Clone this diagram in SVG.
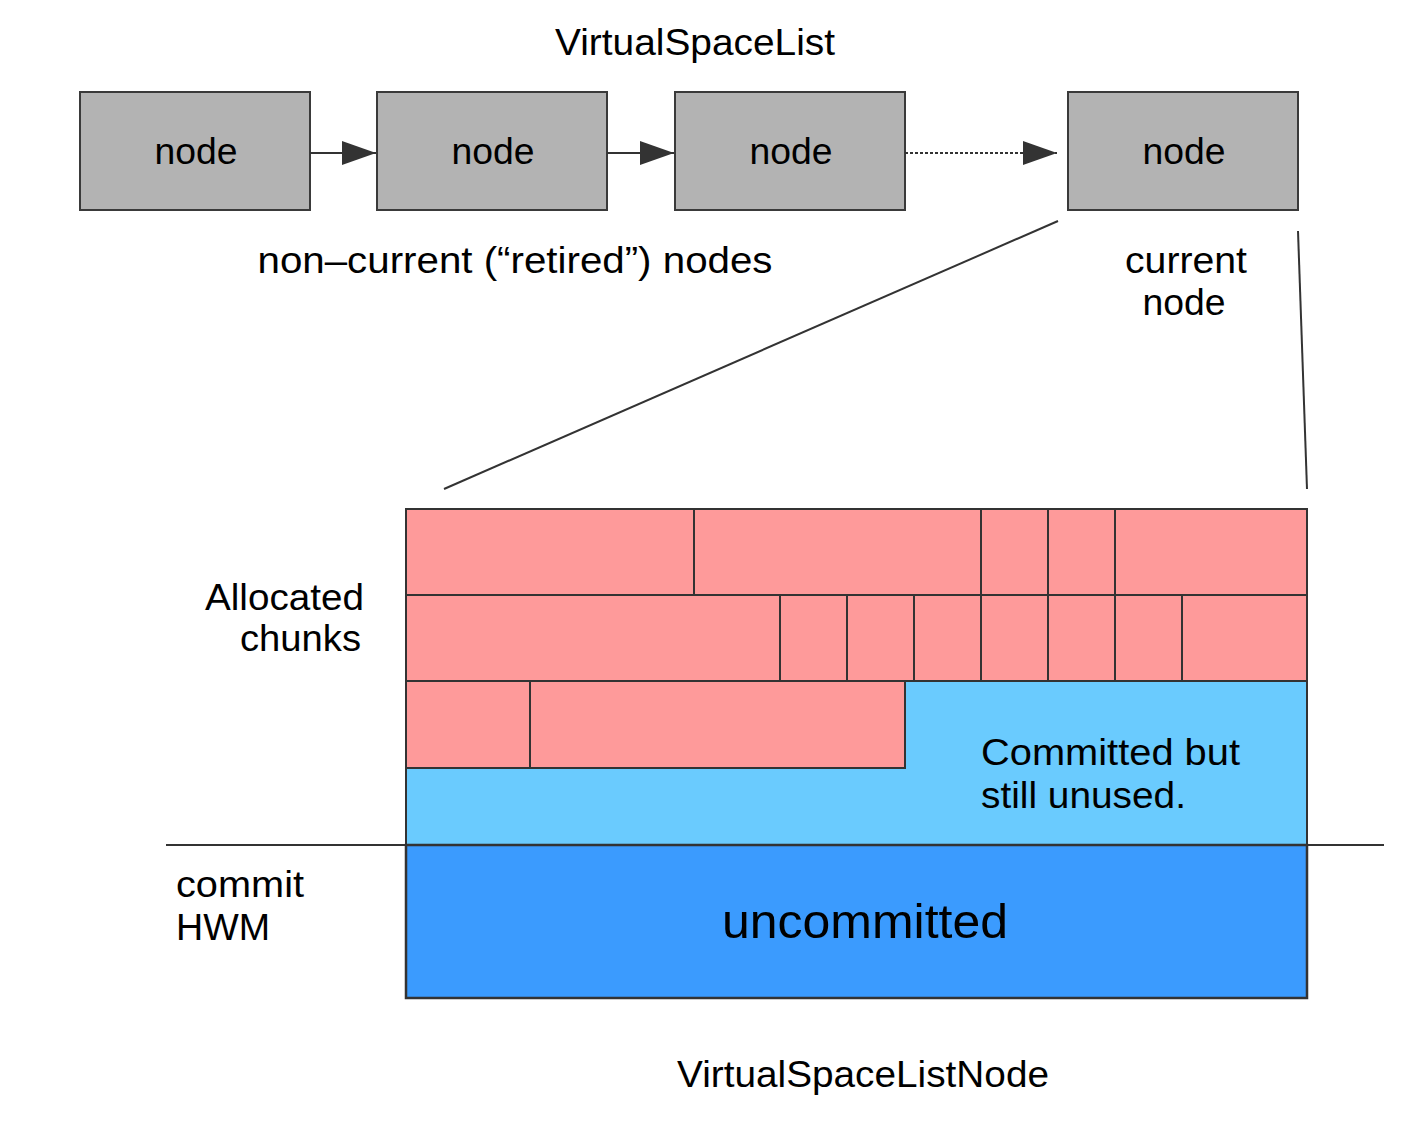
<svg xmlns="http://www.w3.org/2000/svg" width="1406" height="1134" viewBox="0 0 1406 1134">
<defs>
<style>
text{font-family:"Liberation Sans",Arial,sans-serif;fill:#000}
.t{font-size:36px}
.node{fill:#b3b3b3;stroke:#3a3a3a;stroke-width:2}
.chunk{fill:#fe9a9a;stroke:#333;stroke-width:2}
.edge{stroke:#333;stroke-width:2;fill:none}
</style>
<marker id="ah" viewBox="0 0 34 24" markerWidth="34" markerHeight="24" refX="34" refY="12" orient="auto" markerUnits="userSpaceOnUse">
<path d="M0,0 L34,12 L0,24 z" fill="#333"/>
</marker>
</defs>
<rect width="1406" height="1134" fill="#fff"/>
<text class="t" x="695" y="55" text-anchor="middle" textLength="280" lengthAdjust="spacingAndGlyphs">VirtualSpaceList</text>
<g id="node1"><rect class="node" x="80" y="92" width="230" height="118"/><text class="t" x="196" y="164" text-anchor="middle" textLength="83" lengthAdjust="spacingAndGlyphs">node</text></g>
<g id="node2"><rect class="node" x="377" y="92" width="230" height="118"/><text class="t" x="493" y="164" text-anchor="middle" textLength="83" lengthAdjust="spacingAndGlyphs">node</text></g>
<g id="node3"><rect class="node" x="675" y="92" width="230" height="118"/><text class="t" x="791" y="164" text-anchor="middle" textLength="83" lengthAdjust="spacingAndGlyphs">node</text></g>
<g id="node4"><rect class="node" x="1068" y="92" width="230" height="118"/><text class="t" x="1184" y="164" text-anchor="middle" textLength="83" lengthAdjust="spacingAndGlyphs">node</text></g>
<g id="connectors">
<line class="edge" x1="310" y1="153" x2="376" y2="153" marker-end="url(#ah)"/>
<line class="edge" x1="607" y1="153" x2="674" y2="153" marker-end="url(#ah)"/>
<line class="edge" x1="905" y1="153" x2="1057" y2="153" stroke-dasharray="3,2" marker-end="url(#ah)"/>
<line class="edge" x1="1058" y1="221" x2="444" y2="489" stroke-width="1.5"/>
<line class="edge" x1="1298" y1="231" x2="1307" y2="489" stroke-width="1.5"/>
</g>
<text class="t" x="515" y="273" text-anchor="middle" textLength="515" lengthAdjust="spacingAndGlyphs">non–current (“retired”) nodes</text>
<text class="t" x="1186" y="273" text-anchor="middle" textLength="122" lengthAdjust="spacingAndGlyphs">current</text>
<text class="t" x="1184" y="315" text-anchor="middle" textLength="83" lengthAdjust="spacingAndGlyphs">node</text>
<g id="node-detail">
<rect x="406" y="681" width="901" height="164" fill="#6acbfe" stroke="#333" stroke-width="2"/>
<rect x="406" y="845" width="901" height="153" fill="#3b9bfe" stroke="#333" stroke-width="2.5"/>
<rect class="chunk" x="406" y="509" width="288" height="86"/>
<rect class="chunk" x="694" y="509" width="287" height="86"/>
<rect class="chunk" x="981" y="509" width="67" height="86"/>
<rect class="chunk" x="1048" y="509" width="67" height="86"/>
<rect class="chunk" x="1115" y="509" width="192" height="86"/>
<rect class="chunk" x="406" y="595" width="374" height="86"/>
<rect class="chunk" x="780" y="595" width="67" height="86"/>
<rect class="chunk" x="847" y="595" width="67" height="86"/>
<rect class="chunk" x="914" y="595" width="67" height="86"/>
<rect class="chunk" x="981" y="595" width="67" height="86"/>
<rect class="chunk" x="1048" y="595" width="67" height="86"/>
<rect class="chunk" x="1115" y="595" width="67" height="86"/>
<rect class="chunk" x="1182" y="595" width="125" height="86"/>
<rect class="chunk" x="406" y="681" width="124" height="87"/>
<rect class="chunk" x="530" y="681" width="375" height="87"/>
</g>
<line x1="166" y1="845" x2="1384" y2="845" stroke="#333" stroke-width="2"/>
<text class="t" x="364" y="610" text-anchor="end" textLength="159" lengthAdjust="spacingAndGlyphs">Allocated</text>
<text class="t" x="361" y="651" text-anchor="end" textLength="121" lengthAdjust="spacingAndGlyphs">chunks</text>
<text class="t" x="981" y="765" textLength="259" lengthAdjust="spacingAndGlyphs">Committed but</text>
<text class="t" x="981" y="808" textLength="205" lengthAdjust="spacingAndGlyphs">still unused.</text>
<text class="t" x="176" y="897" textLength="128" lengthAdjust="spacingAndGlyphs">commit</text>
<text class="t" x="176" y="940" textLength="94" lengthAdjust="spacingAndGlyphs">HWM</text>
<text x="865" y="938" text-anchor="middle" font-size="49" textLength="286" lengthAdjust="spacingAndGlyphs">uncommitted</text>
<text class="t" x="863" y="1087" text-anchor="middle" textLength="372" lengthAdjust="spacingAndGlyphs">VirtualSpaceListNode</text>
</svg>
